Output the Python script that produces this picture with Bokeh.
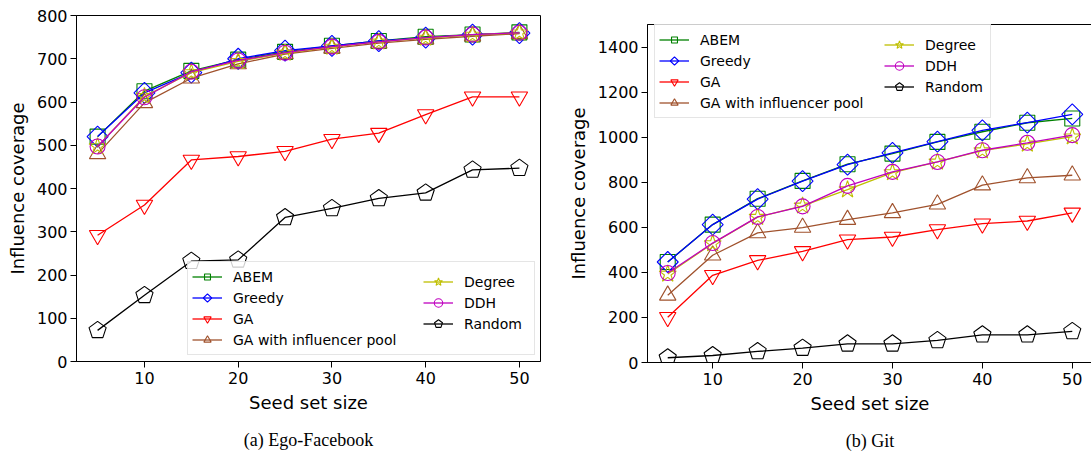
import numpy as np
from bokeh.plotting import figure
from bokeh.models import (Legend, LegendItem, FixedTicker, Range1d, ColumnDataSource,
                          LinearAxis)
from bokeh.layouts import row
from bokeh.embed import file_html
from bokeh.resources import INLINE

# ---------------- data ----------------
seed_set_size = [5, 10, 15, 20, 25, 30, 35, 40, 45, 50]
series_names = ["ABEM", "Greedy", "GA", "GA with influencer pool", "Degree", "DDH", "Random"]

# (a) Ego-Facebook
fb_abem = [520, 625, 672, 698, 716, 730, 741, 751, 756, 761]
fb_greedy = [520, 621, 668, 700, 719, 730, 741, 749, 756, 759]
fb_ga = [292, 362, 466, 474, 486, 514, 528, 571, 612, 612]
fb_ga_pool = [480, 598, 655, 688, 711, 724, 736, 745, 752, 758]
fb_degree = [497, 613, 668, 694, 713, 727, 739, 748, 755, 760]
fb_ddh = [497, 611, 670, 696, 714, 728, 739, 749, 756, 760]
fb_random = [72, 153, 232, 235, 333, 354, 377, 390, 443, 447]

# (b) Git
git_abem = [446, 612, 727, 806, 880, 927, 979, 1024, 1064, 1083]
git_greedy = [446, 612, 725, 805, 878, 930, 980, 1030, 1065, 1101]
git_ga = [201, 387, 453, 493, 545, 557, 590, 616, 628, 664]
git_ga_pool = [298, 476, 575, 599, 634, 664, 702, 787, 819, 831]
git_degree = [393, 528, 645, 695, 767, 843, 890, 940, 970, 1002]
git_ddh = [397, 530, 646, 693, 784, 846, 890, 942, 975, 1009]
git_random = [21, 31, 49, 64, 83, 83, 98, 123, 123, 138]

x_ticks = [10, 20, 30, 40, 50]
fb_y_ticks = [0, 100, 200, 300, 400, 500, 600, 700, 800]
git_y_ticks = [0, 200, 400, 600, 800, 1000, 1200, 1400]

captions = ["(a) Ego-Facebook", "(b) Git"]
x_label = "Seed set size"
y_label = "Influence coverage"

fb_series = [fb_abem, fb_greedy, fb_ga, fb_ga_pool, fb_degree, fb_ddh, fb_random]
git_series = [git_abem, git_greedy, git_ga, git_ga_pool, git_degree, git_ddh, git_random]

# ---------------- styles ----------------
# kind "ngon": n sides, radius in screen px, rotation angle
STYLES = [
    dict(color="#008000", kind="ngon", n=4, r=10.6, angle=np.pi / 4),   # square
    dict(color="#0000ff", kind="ngon", n=4, r=10.5, angle=0.0),         # diamond
    dict(color="#ff0000", kind="ngon", n=3, r=9.5, angle=np.pi),        # triangle down
    dict(color="#a0522d", kind="ngon", n=3, r=9.5, angle=0.0),          # triangle up
    dict(color="#bfbf00", kind="scatter", marker="star", size=18),
    dict(color="#bf00bf", kind="scatter", marker="circle", size=15),
    dict(color="#000000", kind="ngon", n=5, r=9.0, angle=0.0),          # pentagon
]
FONT = "DejaVu Sans"


def make_panel(caption, series, y_end, y_ticks, fw, fh, bl, br, bt, bb,
               legA_loc, legA_lw, legB_loc):
    p = figure(frame_width=fw, frame_height=fh,
               x_range=Range1d(2.75, 52.25), y_range=Range1d(0, y_end),
               output_backend="svg", toolbar_location=None,
               min_border_left=bl, min_border_right=br,
               min_border_top=bt, min_border_bottom=bb)
    p.frame_align = False
    p.xgrid.visible = False
    p.ygrid.visible = False
    p.outline_line_color = "black"
    p.outline_line_alpha = 1
    p.outline_line_width = 1
    p.background_fill_color = "white"
    p.border_fill_color = "white"

    p.xaxis.ticker = FixedTicker(ticks=x_ticks)
    p.yaxis.ticker = FixedTicker(ticks=y_ticks)
    for ax in (p.xaxis, p.yaxis):
        ax.axis_line_color = "black"
        ax.major_tick_line_color = "black"
        ax.major_tick_out = 6
        ax.major_tick_in = 0
        ax.minor_tick_line_color = None
        ax.minor_tick_out = 0
        ax.major_label_text_font = FONT
        ax.major_label_text_font_size = "16px"
        ax.major_label_text_color = "black"
        ax.axis_label_text_font = FONT
        ax.axis_label_text_font_size = "18px"
        ax.axis_label_text_font_style = "normal"
        ax.axis_label_text_color = "black"
    p.xaxis.axis_label = x_label
    p.yaxis.axis_label = y_label
    p.xaxis.major_label_standoff = 4
    p.xaxis.axis_label_standoff = 5
    p.yaxis.major_label_standoff = 3
    p.yaxis.axis_label_standoff = 6

    # caption as a tick-less axis label below the x axis
    cap = LinearAxis(ticker=FixedTicker(ticks=[]), axis_label=caption,
                     axis_line_color=None, major_tick_line_color=None,
                     minor_tick_line_color=None, major_tick_out=0, minor_tick_out=0,
                     major_label_text_font_size="0px",
                     axis_label_text_font="Liberation Serif",
                     axis_label_text_font_size="18px",
                     axis_label_text_font_style="normal",
                     axis_label_text_color="black",
                     axis_label_standoff=14)
    p.add_layout(cap, "below")

    items = []
    for name, vals, st in zip(series_names, series, STYLES):
        src = ColumnDataSource(dict(x=seed_set_size, y=vals))
        lr = p.line("x", "y", source=src, line_color=st["color"], line_width=1.3)
        if st["kind"] == "ngon":
            mr = p.ngon("x", "y", source=src, radius=st["r"], radius_units="screen",
                        n=st["n"], angle=st["angle"], line_color=st["color"],
                        fill_color=None, line_width=1.1)
        else:
            mr = p.scatter("x", "y", source=src, marker=st["marker"], size=st["size"],
                           line_color=st["color"], fill_color=None, line_width=1.1)
        items.append(LegendItem(label=name, renderers=[lr, mr]))

    common = dict(glyph_width=30, glyph_height=21, label_height=21, spacing=0,
                  padding=4, margin=0, label_standoff=11,
                  label_text_font=FONT, label_text_font_size="14px",
                  label_text_color="black")
    legA = Legend(items=items[:4], location=legA_loc, label_width=legA_lw,
                  border_line_color="#cccccc", border_line_width=1,
                  background_fill_color="white", background_fill_alpha=0.8, **common)
    legB = Legend(items=items[4:], location=legB_loc, label_width=20,
                  border_line_color=None, background_fill_alpha=0.0, **common)
    p.add_layout(legA)
    p.add_layout(legB)
    return p


p1 = make_panel(captions[0], fb_series, 800, fb_y_ticks, 464, 346, 76, 24, 15, 93,
                (111, 6), 297, (347, 27))
p2 = make_panel(captions[1], git_series, 1500, git_y_ticks, 445, 338, 76, 1, 24, 92,
                (7, 244), 286, (237, 265))

layout = row(p1, p2)
open("out.html", "w").write(file_html(layout, INLINE))
